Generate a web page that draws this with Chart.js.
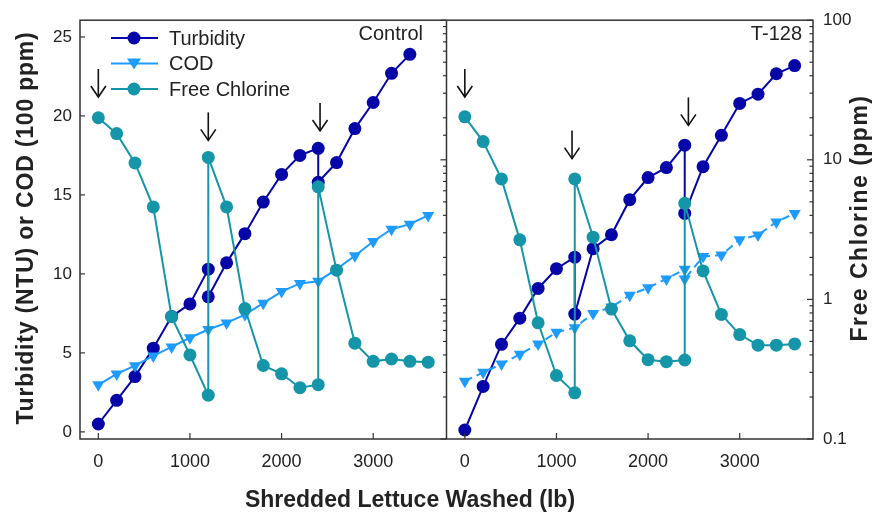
<!DOCTYPE html>
<html>
<head>
<meta charset="utf-8">
<script src="https://cdn.jsdelivr.net/npm/chart.js@4.4.0/dist/chart.umd.min.js"></script>
<style>
html,body{margin:0;padding:0;background:#fff}
#wrap{width:878px;height:519px}
</style>
</head>
<body>
<div id="wrap"><canvas id="c" width="878" height="519"></canvas></div>
<script>
// lb of shredded lettuce washed (repeated x = value before / after chlorine re-dose)
var lbs = [0,200,400,600,800,1000,1200,1200,1400,1600,1800,2000,2200,2400,2400,2600,2800,3000,3200,3400,3600];
var lbsCodCtl = [0,200,400,600,800,1000,1200,1400,1600,1800,2000,2200,2400,2600,2800,3000,3200,3400,3600];
var lbsCodT = [0,200,400,600,800,1000,1200,1400,1600,1800,2000,2200,2400,2400,2600,2800,3000,3200,3400,3600];

// Control panel
var turbCtl = [0.5,2.0,3.5,5.3,7.3,8.1,10.3,8.55,10.7,12.55,14.55,16.3,17.5,17.95,15.8,17.05,19.2,20.85,22.7,23.9,null];
var codCtl  = [2.98,3.67,4.19,4.81,5.38,5.96,6.48,6.9,7.42,8.15,8.88,9.4,9.54,10.3,11.15,12.05,12.83,13.15,13.7];
var clCtl   = [20,15.4,9.5,4.6,0.75,0.40,0.206,10.4,4.6,0.86,0.336,0.293,0.233,0.245,6.4,1.62,0.486,0.36,0.374,0.36,0.355];

// T-128 panel
var turbT = [0.12,2.88,5.54,7.2,9.08,10.33,11.06,7.46,11.6,12.48,14.7,16.1,16.73,18.15,13.83,16.79,18.77,20.79,21.38,22.67,23.19];
var codT  = [3.21,3.77,4.29,4.92,5.56,6.3,6.6,7.5,7.9,8.65,9.13,9.68,10.3,9.68,11.1,11.2,12.17,12.46,13.29,13.83];
var clT   = [20.3,13.5,7.3,2.67,0.68,0.285,0.214,7.3,2.79,0.853,0.505,0.37,0.358,0.368,4.88,1.6,0.78,0.56,0.47,0.47,0.48];

// re-dose arrows: x (lb) and tip height on the turbidity axis
var arrowsCtl = [[0,21.2],[1200,18.45],[2420,19.05]];
var arrowsT   = [[0,21.2],[1170,17.3],[2440,19.4]];

var xTicks  = [0,1000,2000,3000];
var yTicks  = [0,5,10,15,20,25];
var clTicks = [0.1,1,10,100];

var shift = 4000; // second panel sits 4000 lb to the right on the shared x scale

var cTurb = '#0505a8', cCod = '#1e9bff', cCl = '#1596a8';
var fontFam = '"Liberation Sans", Arial, sans-serif';

function pts(xs, ys, off) {
  return xs.map(function (x, i) { return {x: x + off, y: ys[i]}; });
}

function ds(data, color, axis, tri, order, dash) {
  return {
    data: data, yAxisID: axis, borderColor: color, backgroundColor: color,
    borderWidth: 2, pointRadius: tri ? 7 : 6.5, pointHoverRadius: 7,
    pointStyle: tri ? 'triangle' : 'circle', pointRotation: tri ? 180 : 0,
    pointBorderWidth: 0, tension: 0, order: order, borderDash: dash || []
  };
}

function isMajor(v) {
  var l = Math.log10(v);
  return Math.abs(l - Math.round(l)) < 1e-6;
}

function line(ctx, x1, y1, x2, y2) {
  ctx.beginPath(); ctx.moveTo(x1, y1); ctx.lineTo(x2, y2); ctx.stroke();
}

var decor = {
  id: 'decor',
  afterDatasetsDraw: function (chart) {
    var ctx = chart.ctx, a = chart.chartArea;
    var x = chart.scales.x, y = chart.scales.y, y2 = chart.scales.y2;
    var xd = x.getPixelForValue(shift - 200);
    ctx.save();
    // frame + panel divider
    ctx.strokeStyle = '#333'; ctx.lineWidth = 1.5;
    ctx.strokeRect(a.left, a.top, a.right - a.left, a.bottom - a.top);
    line(ctx, xd, a.top, xd, a.bottom);
    // inward ticks
    ctx.lineWidth = 1.2;
    xTicks.forEach(function (v) {
      [0, shift].forEach(function (o) {
        var px = x.getPixelForValue(v + o);
        line(ctx, px, a.bottom, px, a.bottom - 6);
      });
    });
    yTicks.forEach(function (v) {
      var py = y.getPixelForValue(v);
      line(ctx, a.left, py, a.left + 5, py);
    });
    y2.ticks.forEach(function (t) {
      var py = y2.getPixelForValue(t.value);
      var len = isMajor(t.value) ? 6 : 3.5;
      line(ctx, xd, py, xd - len, py);
      line(ctx, a.right, py, a.right - len, py);
    });
    // arrows
    ctx.strokeStyle = '#111'; ctx.lineWidth = 1.6;
    function arrow(lb, v, off) {
      var px = x.getPixelForValue(lb + off), py = y.getPixelForValue(v);
      line(ctx, px, py, px, py - 28);
      ctx.beginPath();
      ctx.moveTo(px - 7.5, py - 11); ctx.lineTo(px, py); ctx.lineTo(px + 7.5, py - 11);
      ctx.stroke();
    }
    arrowsCtl.forEach(function (p) { arrow(p[0], p[1], 0); });
    arrowsT.forEach(function (p) { arrow(p[0], p[1], shift); });
    // legend
    var items = [['Turbidity', cTurb, false], ['COD', cCod, true], ['Free Chlorine', cCl, false]];
    ctx.font = '20px ' + fontFam; ctx.textBaseline = 'middle'; ctx.textAlign = 'left';
    items.forEach(function (it, i) {
      var ly = 38 + i * 25.5;
      ctx.strokeStyle = it[1]; ctx.fillStyle = it[1]; ctx.lineWidth = 2.2;
      line(ctx, 111, ly, 158, ly);
      ctx.beginPath();
      if (it[2]) {
        ctx.moveTo(127, ly - 5); ctx.lineTo(141, ly - 5); ctx.lineTo(134, ly + 6); ctx.closePath();
      } else {
        ctx.arc(134, ly, 6.5, 0, Math.PI * 2);
      }
      ctx.fill();
      ctx.fillStyle = '#222';
      ctx.fillText(it[0], 169, ly + 1);
    });
    // panel labels
    ctx.textAlign = 'right';
    ctx.fillText('Control', 423, 34);
    ctx.fillText('T-128', 802, 34);
    // axis titles
    ctx.font = 'bold 23px ' + fontFam;
    ctx.textAlign = 'center';
    ctx.fillText('Shredded Lettuce Washed (lb)', 410, 501);
    ctx.save();
    ctx.translate(27, 228); ctx.rotate(-Math.PI / 2);
    ctx.letterSpacing = '0.8px';
    ctx.fillText('Turbidity (NTU) or COD (100 ppm)', 0, 0);
    ctx.restore();
    ctx.save();
    ctx.translate(861, 218); ctx.rotate(-Math.PI / 2);
    ctx.letterSpacing = '1.5px';
    ctx.fillText('Free Chlorine (ppm)', 0, 0);
    ctx.restore();
    ctx.restore();
  }
};

var tickFont = {family: fontFam, size: 17};

new Chart(document.getElementById('c'), {
  type: 'line',
  data: {
    datasets: [
      ds(pts(lbs, turbCtl, 0), cTurb, 'y', false, 3),
      ds(pts(lbsCodCtl, codCtl, 0), cCod, 'y', true, 2),
      ds(pts(lbs, clCtl, 0), cCl, 'y2', false, 1),
      ds(pts(lbs, turbT, shift), cTurb, 'y', false, 3),
      ds(pts(lbsCodT, codT, shift), cCod, 'y', true, 2, [8, 5]),
      ds(pts(lbs, clT, shift), cCl, 'y2', false, 1)
    ]
  },
  options: {
    responsive: false,
    animation: false,
    devicePixelRatio: 1,
    layout: {padding: {top: 15, left: 0, right: 0, bottom: 0}},
    plugins: {legend: {display: false}, tooltip: {enabled: false}},
    scales: {
      x: {
        type: 'linear', min: -200, max: shift * 2 - 200,
        grid: {display: false, drawTicks: false}, border: {display: false},
        afterBuildTicks: function (s) {
          s.ticks = xTicks.concat(xTicks.map(function (v) { return v + shift; }))
            .map(function (v) { return {value: v}; });
        },
        afterFit: function (s) { s.height = 80; },
        ticks: {
          autoSkip: false, maxRotation: 0, padding: 12, color: '#222',
          font: {family: fontFam, size: 18},
          callback: function (v) { return String(v >= shift - 200 ? v - shift : v); }
        }
      },
      y: {
        type: 'linear', position: 'left', min: -0.45, max: 26.06,
        grid: {display: false, drawTicks: false}, border: {display: false},
        afterBuildTicks: function (s) {
          s.ticks = yTicks.map(function (v) { return {value: v}; });
        },
        afterFit: function (s) { s.width = 80; },
        ticks: {autoSkip: false, padding: 8, color: '#222', font: tickFont}
      },
      y2: {
        type: 'logarithmic', position: 'right', min: 0.1, max: 100,
        grid: {display: false, drawTicks: false}, border: {display: false},
        afterFit: function (s) { s.width = 65; },
        ticks: {
          autoSkip: false, padding: 10, color: '#222', font: tickFont,
          callback: function (v) { return isMajor(v) ? String(v) : ''; }
        }
      }
    }
  },
  plugins: [decor]
});
</script>
</body>
</html>
